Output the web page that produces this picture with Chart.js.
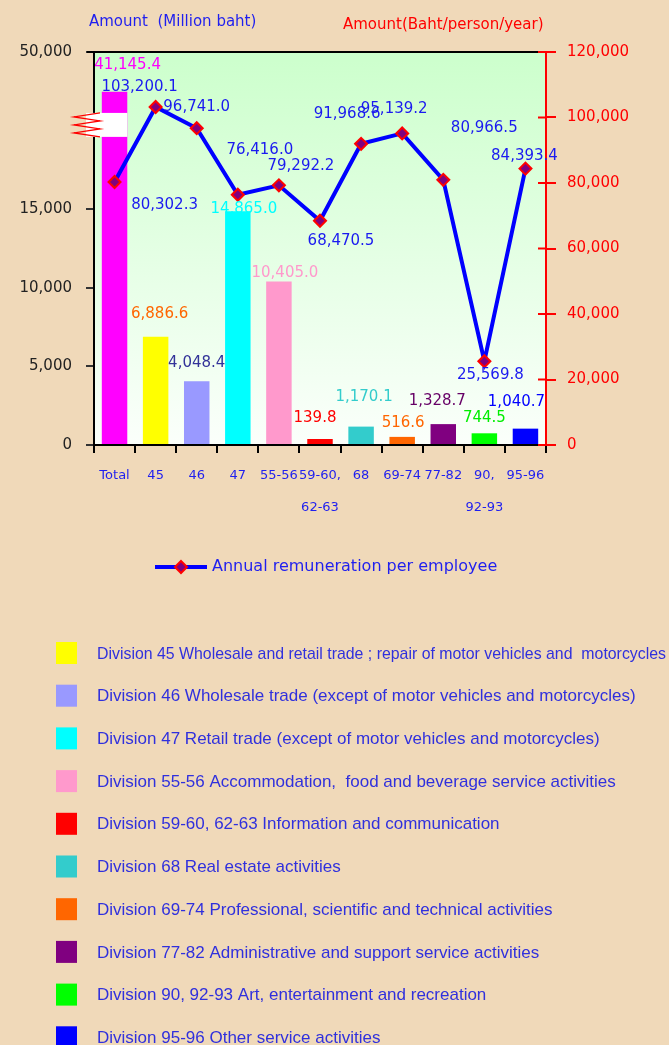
<!DOCTYPE html>
<html>
<head>
<meta charset="utf-8">
<script src="https://cdn.jsdelivr.net/npm/chart.js@4.4.1/dist/chart.umd.min.js"></script>
<style>
  html, body { margin: 0; padding: 0; background: #F0D9B9; }
  canvas { display: block; }
</style>
</head>
<body>
<canvas id="c" width="669" height="1045"></canvas>
<script>
// ---------------- DATA ----------------
const categories = [['Total'], ['45'], ['46'], ['47'], ['55-56'], ['59-60,', '62-63'], ['68'], ['69-74'], ['77-82'], ['90,', '92-93'], ['95-96']];
const amountMillionBaht = [41145.4, 6886.6, 4048.4, 14865.0, 10405.0, 139.8, 1170.1, 516.6, 1328.7, 744.5, 1040.7];
const remunerationPerEmployee = [80302.3, 103200.1, 96741.0, 76416.0, 79292.2, 68470.5, 91968.6, 95139.2, 80966.5, 25569.8, 84393.4];
const leftTicks = [0, 5000, 10000, 15000, 50000];
const rightTicks = [0, 20000, 40000, 60000, 80000, 100000, 120000];
const divisionNames = [
  'Division 45 Wholesale and retail trade ; repair of motor vehicles and  motorcycles',
  'Division 46 Wholesale trade (except of motor vehicles and motorcycles)',
  'Division 47 Retail trade (except of motor vehicles and motorcycles)',
  'Division 55-56 Accommodation,  food and beverage service activities',
  'Division 59-60, 62-63 Information and communication',
  'Division 68 Real estate activities',
  'Division 69-74 Professional, scientific and technical activities',
  'Division 77-82 Administrative and support service activities',
  'Division 90, 92-93 Art, entertainment and recreation',
  'Division 95-96 Other service activities'
];
const lineSeriesName = 'Annual remuneration per employee';

// ---------------- STYLE ----------------
const barColors = ['#FF00FF', '#FFFF00', '#9999FF', '#00FFFF', '#FF99CC', '#FF0000', '#33CCCC', '#FF6600', '#800080', '#00FF00', '#0000FF'];
const barLabelColors = ['#FF00FF', '#FF6600', '#333399', '#00FFFF', '#FF99CC', '#FF0000', '#33CCCC', '#FF6600', '#660066', '#00EE00', '#0000FF'];
const barLabelShift = [[13,-27],[4,-23],[0,-18],[6,-2],[6,-8],[-5,-21],[3,-29],[1,-14],[-6,-23],[0,-15],[-9,-27]];
const lineLabelShift = [[50,23],[-16,-20],[0,-21],[22,-45],[22,-19],[21,20],[-14,-30],[-8,-24],[41,-52],[6,14],[-1,-13]];
const FONT = 'DejaVu Sans';
const BLUE = '#1F1FEF';

const fmt1 = v => v.toLocaleString('en-US', { minimumFractionDigits: 1, maximumFractionDigits: 1 });
const fmt0 = v => v.toLocaleString('en-US');

// Broken left axis: 0..15,000 on lower 60%, 15,000..50,000 compressed above
const BREAK_VALUE = leftTicks[3];
const BREAK_FRACTION = 0.6;
class BrokenLinearScale extends Chart.LinearScale {
  buildTicks() { return leftTicks.map(v => ({ value: v })); }
  _dec(v) {
    const min = this.min, max = this.max;
    if (v <= BREAK_VALUE) return (v - min) / (BREAK_VALUE - min) * BREAK_FRACTION;
    return BREAK_FRACTION + (v - BREAK_VALUE) / (max - BREAK_VALUE) * (1 - BREAK_FRACTION);
  }
  getPixelForValue(v) { return this.getPixelForDecimal(this._dec(v)); }
  getValueForPixel(p) {
    const d = this.getDecimalForPixel(p);
    if (d <= BREAK_FRACTION) return this.min + d / BREAK_FRACTION * (BREAK_VALUE - this.min);
    return BREAK_VALUE + (d - BREAK_FRACTION) / (1 - BREAK_FRACTION) * (this.max - BREAK_VALUE);
  }
}
BrokenLinearScale.id = 'brokenLinear';
BrokenLinearScale.defaults = { ticks: { callback: v => fmt0(v) } };
Chart.register(BrokenLinearScale);

const BAR = 0, LINE = 1;

const decorPlugin = {
  id: 'decor',
  beforeDraw(chart) {
    const { ctx, chartArea: a } = chart;
    ctx.save();
    const g = ctx.createLinearGradient(0, a.top, 0, a.bottom);
    g.addColorStop(0, '#CCFFCC');
    g.addColorStop(1, '#FBFFFB');
    ctx.fillStyle = g;
    ctx.fillRect(a.left, a.top, a.right - a.left, a.bottom - a.top);
    ctx.restore();
  },
  afterDatasetDraw(chart, args) {
    if (args.index !== BAR) return;
    const { ctx, chartArea: a } = chart;
    const h = a.bottom - a.top;
    const bar = chart.getDatasetMeta(BAR).data[0];
    const y0 = a.top + h * 0.155, y1 = a.top + h * 0.216;
    ctx.save();
    ctx.fillStyle = '#FFFFFF';
    ctx.fillRect(a.left - 8, y0, bar.x + bar.width / 2 - (a.left - 8), y1 - y0);
    // zigzag break mark
    ctx.strokeStyle = '#FF0000';
    ctx.lineWidth = 1.3;
    ctx.beginPath();
    const xl = a.left - 20, xr = a.left + 6;
    const n = 6;
    for (let i = 0; i <= n; i++) {
      const x = i % 2 === 0 ? xr : xl;
      const y = y0 + (y1 - y0) * i / n;
      if (i === 0) ctx.moveTo(x, y); else ctx.lineTo(x, y);
    }
    ctx.stroke();
    ctx.restore();
  },
  afterDraw(chart) {
    const { ctx, chartArea: a } = chart;
    ctx.save();
    // top border
    ctx.strokeStyle = '#000';
    ctx.lineWidth = 2;
    ctx.beginPath();
    ctx.moveTo(a.left - 7, a.top);
    ctx.lineTo(a.right, a.top);
    ctx.stroke();
    // inner ticks on right axis
    const y2 = chart.scales.y2;
    ctx.strokeStyle = '#FF0000';
    y2.ticks.forEach(t => {
      const y = y2.getPixelForValue(t.value);
      ctx.beginPath();
      ctx.moveTo(a.right - 8, y);
      ctx.lineTo(a.right, y);
      ctx.stroke();
    });

    // bar value labels
    ctx.font = '15px "' + FONT + '"';
    ctx.textAlign = 'center';
    ctx.textBaseline = 'middle';
    chart.getDatasetMeta(BAR).data.forEach((el, i) => {
      ctx.fillStyle = barLabelColors[i];
      ctx.fillText(fmt1(amountMillionBaht[i]), el.x + barLabelShift[i][0], el.y + barLabelShift[i][1]);
    });
    // line value labels
    ctx.fillStyle = '#1A1AF0';
    chart.getDatasetMeta(LINE).data.forEach((el, i) => {
      ctx.fillText(fmt1(remunerationPerEmployee[i]), el.x + lineLabelShift[i][0], el.y + lineLabelShift[i][1]);
    });

    // axis titles
    ctx.textAlign = 'left';
    ctx.font = '15px "' + FONT + '"';
    ctx.fillStyle = BLUE;
    ctx.fillText('Amount  (Million baht)', 89, 22);
    ctx.fillStyle = '#FF0000';
    ctx.fillText('Amount(Baht/person/year)', 343, 25);

    // line legend
    const ly = 567;
    ctx.strokeStyle = '#0000FF';
    ctx.lineWidth = 4;
    ctx.beginPath();
    ctx.moveTo(155, ly);
    ctx.lineTo(207, ly);
    ctx.stroke();
    ctx.beginPath();
    ctx.moveTo(181, ly - 6); ctx.lineTo(187, ly); ctx.lineTo(181, ly + 6); ctx.lineTo(175, ly); ctx.closePath();
    ctx.fillStyle = '#800080';
    ctx.fill();
    ctx.strokeStyle = '#FF0000';
    ctx.lineWidth = 2;
    ctx.stroke();
    ctx.font = '16px "' + FONT + '"';
    ctx.fillStyle = BLUE;
    ctx.fillText(lineSeriesName, 212, ly);

    // division legend
    const firstY = 653, gap = 42.7;
    ctx.font = '17px "Liberation Sans"';
    divisionNames.forEach((name, i) => {
      const y = firstY + i * gap;
      ctx.fillStyle = barColors[i + 1];
      ctx.fillRect(56, y - 11, 21, 22);
      ctx.fillStyle = '#3030DD';
      ctx.fillText(name, 97, y + 1, 569);
    });
    ctx.restore();
  }
};

new Chart(document.getElementById('c'), {
  data: {
    labels: categories,
    datasets: [
      {
        type: 'bar',
        label: 'Amount',
        data: amountMillionBaht,
        yAxisID: 'y',
        order: 1,
        backgroundColor: barColors,
        barPercentage: 0.62,
        categoryPercentage: 1.0,
        minBarLength: 6
      },
      {
        type: 'line',
        label: lineSeriesName,
        data: remunerationPerEmployee,
        yAxisID: 'y2',
        order: 0,
        borderColor: '#0000FF',
        borderWidth: 4,
        tension: 0,
        pointStyle: 'rectRot',
        pointRadius: 6,
        pointBackgroundColor: '#800080',
        pointBorderColor: '#FF0000',
        pointBorderWidth: 2
      }
    ]
  },
  options: {
    responsive: false,
    animation: false,
    devicePixelRatio: 1,
    locale: 'en-US',
    layout: { padding: { top: 52, left: 0, right: 0, bottom: 0 } },
    plugins: { legend: { display: false }, tooltip: { enabled: false } },
    scales: {
      x: {
        type: 'category',
        offset: true,
        grid: { offset: true, drawOnChartArea: false, color: '#000', lineWidth: 2, tickLength: 8 },
        border: { color: '#000', width: 2 },
        ticks: { color: BLUE, font: { family: FONT, size: 13, lineHeight: 2.5 }, padding: 6, maxRotation: 0, autoSkip: false },
        afterFit(s) { s.height = 600; }
      },
      y: {
        type: 'brokenLinear',
        position: 'left',
        min: 0,
        max: 50000,
        grid: { drawOnChartArea: false, color: '#333', lineWidth: 2, tickLength: 8 },
        border: { color: '#000', width: 2 },
        ticks: { color: '#222', font: { family: FONT, size: 15 }, padding: 14, callback: v => fmt0(v) },
        afterFit(s) { s.width = 94; }
      },
      y2: {
        type: 'linear',
        position: 'right',
        min: 0,
        max: 120000,
        grid: { drawOnChartArea: false, color: '#FF0000', lineWidth: 2, tickLength: 10 },
        border: { color: '#FF0000', width: 2 },
        ticks: { color: '#FF0000', stepSize: 20000, font: { family: FONT, size: 15 }, padding: 11, callback: v => fmt0(v) },
        afterBuildTicks(s) { s.ticks = rightTicks.map(v => ({ value: v })); },
        afterFit(s) { s.width = 123; }
      }
    }
  },
  plugins: [decorPlugin]
});
</script>
</body>
</html>
